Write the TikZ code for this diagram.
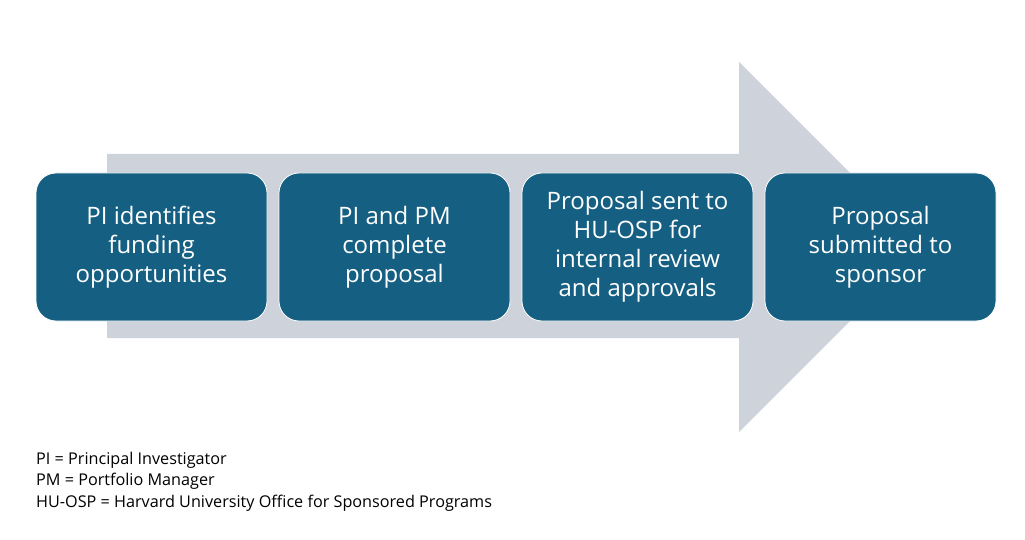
\documentclass[tikz,border=0pt]{standalone}
\usepackage{fontspec}
\setmainfont{Open Sans}
\definecolor{boxblue}{RGB}{21,96,130}
\definecolor{arrowgray}{RGB}{206,211,219}
\begin{document}
\begin{tikzpicture}[x=1pt,y=-1pt,
  stepbox/.style={draw=white,line width=0.8pt,fill=boxblue,rounded corners=20pt,
    minimum width=231pt,minimum height=148pt,inner sep=0pt,text=white,
    align=center,font=\fontsize{24}{29}\selectfont},
  legend/.style={anchor=north west,align=left,inner sep=0pt,font=\fontsize{16.2}{21.5}\selectfont}]
\useasboundingbox[fill=white] (0,0) rectangle (1025,540);
\fill[arrowgray] (107,154) -- (739,154) -- (739,62) -- (924,247) -- (739,432) -- (739,338) -- (107,338) -- cycle;
\node[stepbox] (s1) at (151.5,247) {PI identifies\\funding\\opportunities};
\node[stepbox] (s2) at (394.5,247) {PI and PM\\complete\\proposal};
\node[stepbox] (s3) at (637.5,247) {Proposal sent to\\HU-OSP for\\internal review\\and approvals};
\node[stepbox] (s4) at (880.5,247) {Proposal\\submitted to\\sponsor};
\node[legend] (leg) at (36,451.5) {PI = Principal Investigator\\PM = Portfolio Manager\\HU-OSP = Harvard University Office for Sponsored Programs};
\end{tikzpicture}
\end{document}
